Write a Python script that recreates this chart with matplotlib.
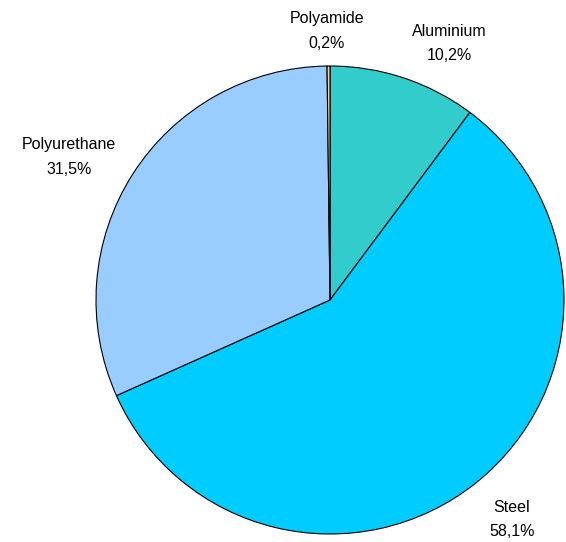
import matplotlib.pyplot as plt

materials = ["Aluminium", "Steel", "Polyurethane", "Polyamide"]
shares = [10.2, 58.1, 31.5, 0.2]
colours = ["#33CCCC", "#00CCFF", "#99CCFF", "#FFCC99"]

# label anchor points in pixels from top-left (name line centre)
label_pos = {
    "Aluminium": (449, 32),
    "Steel": (512, 507),
    "Polyurethane": (69, 145),
    "Polyamide": (327, 19),
}

W, H = 566, 542
fig = plt.figure(figsize=(W / 100, H / 100), dpi=100)
ax = fig.add_axes([0, 0, 1, 1])

ax.pie(
    shares,
    colors=colours,
    startangle=90,
    counterclock=False,
    center=(330, H - 300),
    radius=234,
    frame=True,
    wedgeprops=dict(edgecolor="black", linewidth=0.8),
)
ax.set_xlim(0, W)
ax.set_ylim(0, H)
ax.set_aspect("equal")
ax.axis("off")

for name, val in zip(materials, shares):
    x, y = label_pos[name]
    ax.text(x, H - y, name, ha="center", va="center", fontsize=11.5,
            family="Liberation Sans")
    ax.text(x, H - y - 24, f"{val:.1f}%".replace(".", ","), ha="center",
            va="center", fontsize=11.5, family="Liberation Sans")

fig.savefig("out.png", dpi=100)
